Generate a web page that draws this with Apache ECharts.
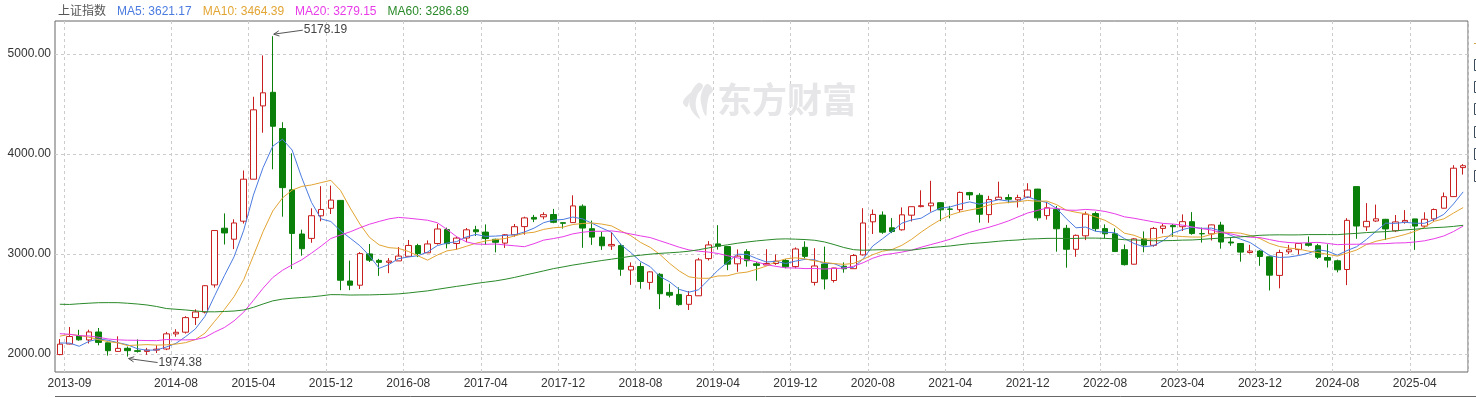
<!DOCTYPE html>
<html><head><meta charset="utf-8">
<script src="https://cdn.jsdelivr.net/npm/echarts@6/dist/echarts.min.js"></script>
<style>html,body{margin:0;padding:0;background:#fff}#c{width:1476px;height:397px}</style>
</head><body><div id="c"></div>
<script>
// Monthly categories 2013-08 .. 2025-09
const months = [
'2013-08','2013-09','2013-10','2013-11','2013-12',
'2014-01','2014-02','2014-03','2014-04','2014-05','2014-06','2014-07','2014-08','2014-09','2014-10','2014-11','2014-12',
'2015-01','2015-02','2015-03','2015-04','2015-05','2015-06','2015-07','2015-08','2015-09','2015-10','2015-11','2015-12',
'2016-01','2016-02','2016-03','2016-04','2016-05','2016-06','2016-07','2016-08','2016-09','2016-10','2016-11','2016-12',
'2017-01','2017-02','2017-03','2017-04','2017-05','2017-06','2017-07','2017-08','2017-09','2017-10','2017-11','2017-12',
'2018-01','2018-02','2018-03','2018-04','2018-05','2018-06','2018-07','2018-08','2018-09','2018-10','2018-11','2018-12',
'2019-01','2019-02','2019-03','2019-04','2019-05','2019-06','2019-07','2019-08','2019-09','2019-10','2019-11','2019-12',
'2020-01','2020-02','2020-03','2020-04','2020-05','2020-06','2020-07','2020-08','2020-09','2020-10','2020-11','2020-12',
'2021-01','2021-02','2021-03','2021-04','2021-05','2021-06','2021-07','2021-08','2021-09','2021-10','2021-11','2021-12',
'2022-01','2022-02','2022-03','2022-04','2022-05','2022-06','2022-07','2022-08','2022-09','2022-10','2022-11','2022-12',
'2023-01','2023-02','2023-03','2023-04','2023-05','2023-06','2023-07','2023-08','2023-09','2023-10','2023-11','2023-12',
'2024-01','2024-02','2024-03','2024-04','2024-05','2024-06','2024-07','2024-08','2024-09','2024-10','2024-11','2024-12',
'2025-01','2025-02','2025-03','2025-04','2025-05','2025-06','2025-07','2025-08','2025-09'
];
const opens = [
1994.23,2100,2182,2140.5,2220,
2112,2026,2057,2033,2026,2039,2050,2201,2218,2364,2419,2691,
3258,3148,3328,3748,4481,4617,4255,3642,3200,3156,3382,3457,
3536,2730,2688,3001,2936,2917,2931,2977,3084,3012,3105,3244,
3105,3160,3242,3219,3147,3109,3192,3274,3366,3372,3395,3313,
3314,3478,3253,3169,3081,3084,2840,2875,2716,2797,2616,2596,
2497,2582,2954,3101,3074,2902,3024,2902,2890,2905,2935,2874,
3067,2716,2900,2735,2878,2853,2991,3322,3389,3262,3242,3388,
3474,3482,3513,3450,3443,3614,3587,3394,3545,3565,3542,3568,
3649,3384,3446,3257,3047,3182,3404,3254,3202,3043,2898,3150,
3087,3256,3284,3273,3323,3204,3201,3289,3120,3105,3015,3030,
2972,2786,3022,3044,3105,3083,2965,2932,2845,3674,3272,3330,
3347,3232,3319,3351,3279,3351,3458,3574,3864
];
const closes = [
2098.38,2174.67,2141.61,2220.50,2115.98,
2033.08,2056.30,2033.31,2026.36,2039.21,2048.33,2201.56,2217.20,2363.87,2420.18,2682.84,3234.68,
3210.36,3310.30,3747.90,4441.66,4611.74,4277.22,3663.73,3205.99,3052.78,3382.56,3445.40,3539.18,
2737.60,2687.98,3003.92,2938.32,2916.62,2929.61,2979.34,3085.49,3004.70,3100.49,3250.03,3103.64,
3159.17,3241.73,3222.51,3154.66,3117.18,3192.43,3273.03,3360.81,3348.94,3393.34,3317.19,3307.17,
3480.83,3259.41,3168.90,3082.23,3095.47,2847.42,2876.40,2725.25,2821.35,2602.78,2588.19,2493.90,
2584.57,2940.95,3090.76,3078.34,2898.70,2978.88,2932.51,2886.24,2905.19,2929.06,2871.98,3050.12,
2976.53,2880.30,2750.30,2860.08,2852.35,2984.67,3310.01,3395.68,3218.05,3224.53,3391.76,3473.07,
3483.07,3509.08,3441.91,3446.86,3615.48,3591.20,3397.36,3543.94,3568.17,3547.34,3563.89,3639.78,
3361.44,3462.31,3252.20,3047.06,3186.43,3398.62,3253.24,3202.14,3024.39,2893.48,3151.34,3089.26,
3255.67,3279.61,3272.86,3323.27,3204.56,3202.06,3291.04,3119.88,3110.48,3018.77,3029.67,2974.93,
2788.55,3015.17,3041.17,3104.82,3086.81,2967.40,2938.75,2842.21,3336.50,3279.82,3326.46,3351.76,
3250.60,3320.90,3335.75,3279.03,3347.49,3444.43,3573.21,3857.93,3882.78
];
const lows = [
1987.95,2097,2133,2105,2087,
1984,2025,1974.38,2014,1991,2010,2039,2173,2204,2290,2406,2664,
3095,3049,3305,3748,4213,3847,3373,2850,2983,3112,3327,3400,
2638,2638.5,2650,2920,2781,2808,2931,2975,2969,3009,3094,3056,
3044,3118,3180,3092,3016,3061,3173,3193,3319,3347,3308,3254,
3314,3062,3091,3041,3041,2782,2691,2653,2644,2449,2566,2483,
2440,2580,2935,3044,2838,2822,2873,2733,2890,2891,2857,2857,
2955,2685,2646,2715,2813,2853,2985,3200,3202,3209,3234,3325,
3467,3423,3328,3357,3417,3540,3313,3312,3542,3508,3465,3559,
3333,3344,3023,2863,2972,3139,3227,3156,3021,2885,2896,3017,
3073,3205,3171,3230,3193,3114,3135,3053,3082,2923,3004,2882,
2635,2657,2999,2995,3074,2950,2865,2816,2689,3152,3230,3321,
3140,3219,3303,3041,3261,3324,3456,3571,3794
];
const highs = [
2149.39,2270.27,2242,2243,2260,
2112,2177,2075,2146,2061,2087,2221,2248,2378,2447,2687,3239,
3406,3347,3835,4572,4986,5178.19,4318,4007,3243,3457,3678,3684,
3539,2934,3019,3100,2951,2959,3070,3140,3102,3136,3301,3264,
3174,3260,3282,3296,3153,3199,3300,3373,3391,3417,3451,3314,
3587,3496,3334,3220,3219,3105,2916,2915,2827,2809,2703,2667,
2630,2961,3129,3288,3079,3046,3048,2920,3048,2996,2949,3066,
3127,3058,3074,2861,2916,3000,3458,3445,3426,3359,3466,3474,
3637,3732,3518,3481,3625,3622,3608,3582,3723,3597,3593,3708,
3651,3521,3480,3291,3195,3424,3424,3296,3256,3095,3159,3226,
3270,3300,3300,3396,3419,3264,3294,3322,3168,3105,3092,3040,
2977,3043,3091,3107,3175,3102,3097.5,2944,3358,3674,3509,3494,
3351,3390,3439,3351,3417,3455,3615,3888,3899
];
// Monthly closes before the visible window (2008-09 .. 2013-07), used for the moving averages
const priorCloses = [
2293.78,1728.79,1871.16,1820.81,
1990.66,2082.85,2373.21,2477.57,2632.93,2959.36,3412.06,2667.74,2779.43,2995.85,3195.30,3277.14,
2989.29,3051.94,3109.10,2870.61,2592.15,2398.37,2637.50,2638.80,2655.66,2978.84,2820.18,2808.08,
2790.69,2905.05,2928.11,2911.51,2743.47,2762.08,2701.73,2567.34,2359.22,2468.25,2333.41,2199.42,
2292.61,2428.49,2262.79,2396.32,2372.23,2225.43,2103.63,2047.52,2086.17,2068.88,1980.12,2269.13,
2385.42,2359.51,2236.62,2177.91,2300.59,1979.21,1993.80
];
const yTicks = [2000, 3000, 4000, 5000];
const maPeriods = [5, 10, 20, 60];
const maColors = ['#4b7be0', '#e2a534', '#e83ce8', '#2a8a2a'];

const allCloses = priorCloses.concat(closes);
function movingAverage(n) {
  const out = [];
  for (let i = 0; i < closes.length; i++) {
    const k = i + priorCloses.length;
    let s = 0;
    for (let j = k - n + 1; j <= k; j++) s += allCloses[j];
    out.push(+(s / n).toFixed(2));
  }
  return out;
}
const maSeries = maPeriods.map(movingAverage);

const candleData = months.map((m, i) => [opens[i], closes[i], lows[i], highs[i]]);
const labelIdx = (i) => i === 1 || (i >= 12 && (i - 12) % 8 === 0);

const FONT = 'Arial, "Liberation Sans", "Noto Sans CJK SC", sans-serif';
const chart = echarts.init(document.getElementById('c'), null, {renderer: 'canvas'});

const rich = {n: {color: '#555', fontSize: 12, fontWeight: 'normal', fontFamily: FONT, padding: [0, 11, 0, 0]}};
let titleText = '{n|上证指数}';
maPeriods.forEach((p, k) => {
  rich['m' + k] = {color: maColors[k], fontSize: 12, fontWeight: 'normal', fontFamily: FONT, padding: [0, 11, 0, 0]};
  titleText += '{m' + k + '|MA' + p + ': ' + maSeries[k][maSeries[k].length - 1].toFixed(2) + '}';
});

const option = {
  animation: false,
  backgroundColor: '#fff',
  title: {text: titleText, left: 53, top: 1, textStyle: {rich: rich, fontSize: 12, fontWeight: 'normal'}},
  grid: {left: 55, right: 8, top: 21, bottom: 25, show: true, borderColor: '#666', borderWidth: 1, containLabel: false},
  xAxis: {
    type: 'category', data: months, boundaryGap: true,
    axisLine: {show: false}, axisTick: {show: false},
    axisLabel: {interval: (i) => labelIdx(i), color: '#333', fontSize: 12, fontFamily: FONT, margin: 6},
    splitLine: {show: true, interval: (i) => labelIdx(i), lineStyle: {color: '#ccc', type: [3, 3], width: 1}}
  },
  yAxis: {
    type: 'value', min: 1820, max: 5330, scale: true,
    axisLine: {show: false},
    axisTick: {show: false, customValues: yTicks},
    axisLabel: {customValues: yTicks, color: '#333', fontSize: 12, fontFamily: FONT, margin: 4, formatter: (v) => v.toFixed(2)},
    splitLine: {show: true, lineStyle: {color: '#ccc', type: [3, 3], width: 1}}
  },
  series: [
    {
      type: 'candlestick', data: candleData, barWidth: 6,
      itemStyle: {color: '#ffffff', color0: '#0a800a', borderColor: '#c81e1e', borderColor0: '#0a800a', borderWidth: 1}
    }
  ].concat(maPeriods.map((p, k) => ({
    type: 'line', name: 'MA' + p, data: maSeries[k], symbol: 'none', smooth: false,
    lineStyle: {color: maColors[k], width: 1}, z: 3
  })))
};
chart.setOption(option);

// annotations for max high and min low
let hiI = 0, loI = 0;
highs.forEach((v, i) => { if (v > highs[hiI]) hiI = i; });
lows.forEach((v, i) => { if (v < lows[loI]) loI = i; });
const pHi = chart.convertToPixel({gridIndex: 0}, [hiI, highs[hiI]]);
const pLo = chart.convertToPixel({gridIndex: 0}, [loI, lows[loI]]);
function arrow(tip, dx, dy, label) {
  const ex = tip[0] + dx, ey = tip[1] + dy;
  const ang = Math.atan2(ey - tip[1], ex - tip[0]);
  const L = 6, spread = 0.45;
  return [
    {type: 'line', shape: {x1: tip[0], y1: tip[1], x2: ex, y2: ey}, style: {stroke: '#555', lineWidth: 1}, z: 10},
    {type: 'polyline', shape: {points: [
      [tip[0] + L * Math.cos(ang + spread), tip[1] + L * Math.sin(ang + spread)],
      [tip[0], tip[1]],
      [tip[0] + L * Math.cos(ang - spread), tip[1] + L * Math.sin(ang - spread)]
    ]}, style: {stroke: '#555', fill: null, lineWidth: 1}, z: 10},
    {type: 'text', x: ex + 1, y: ey, style: {text: label, fill: '#444', font: '12px ' + FONT, textVerticalAlign: 'middle'}, z: 10}
  ];
}
const g = [];
g.push(...arrow([pHi[0] + 1, pHi[1] - 2], 29, -4, highs[hiI].toFixed(2)));
g.push(...arrow([pLo[0] + 1, pLo[1] + 2], 29, 4, lows[loI].toFixed(2)));
// watermark
const WM = '#e6e6e8';
g.push({type: 'text', x: 717, y: 100, style: {text: '东方财富', fill: WM, font: 'bold 35px "Noto Sans CJK SC", sans-serif', textVerticalAlign: 'middle'}, z: 0, silent: true});
g.push({type: 'polygon', x: 680, y: 82, shape: {points: [[3, 20], [9, 12], [13, 10], [10, 16], [7, 25]], smooth: 0.4}, style: {fill: WM}, silent: true});
g.push({type: 'polygon', x: 680, y: 82, shape: {points: [[18, 1], [10, 14], [11, 27], [20, 37], [16, 26], [17, 14], [23, 4]], smooth: 0.4}, style: {fill: WM}, silent: true});
g.push({type: 'polygon', x: 680, y: 82, shape: {points: [[27, 2], [21, 13], [22, 25], [26, 34], [27, 24], [29, 14], [33, 8]], smooth: 0.4}, style: {fill: WM}, silent: true});
// bottom separator
g.push({type: 'line', shape: {x1: 55, y1: 396.5, x2: 1476, y2: 396.5}, style: {stroke: '#666', lineWidth: 1}});
// cut-off icons at the right edge
g.push({type: 'line', shape: {x1: 1474, y1: 43.5, x2: 1477, y2: 43.5}, style: {stroke: '#d6a24a', lineWidth: 1}});
[59, 81, 103, 126, 148, 170].forEach(y => g.push({type: 'rect', shape: {x: 1474.5, y: y + 0.5, width: 8, height: 11}, style: {stroke: '#3b4b5c', fill: null, lineWidth: 1}}));
chart.setOption({graphic: g});
</script>
</body></html>
